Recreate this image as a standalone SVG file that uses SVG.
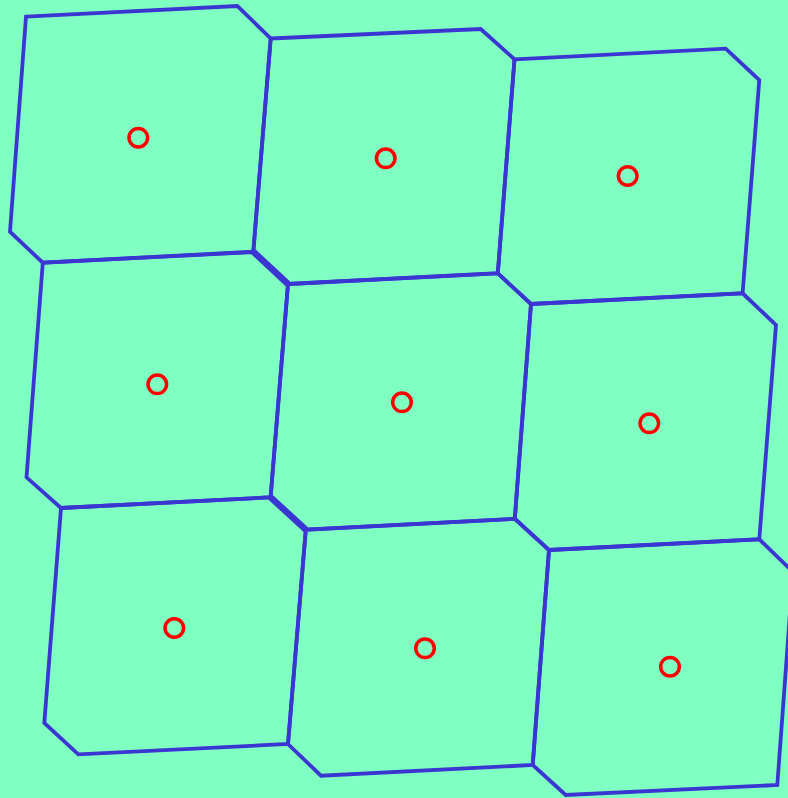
<svg xmlns="http://www.w3.org/2000/svg" width="788" height="798" viewBox="0 0 788 798">
<style>
.cell{fill:none;stroke:#3b36d2;stroke-width:3.8;stroke-linejoin:miter}
.thick{fill:none;stroke:#3b36d2;stroke-width:6.5;stroke-linecap:butt}
.site{fill:none;stroke:#ff0000;stroke-width:3.5}
</style>
<rect x="0" y="0" width="788" height="798" fill="#80ffc3"/>
<g id="cell-0-0"><polygon class="cell" points="26,16.7 237.3,6 270.7,38.5 253.3,251.7 42.8,262.7 10,231.7"/><circle class="site" cx="138.3" cy="137.7" r="9.3"/></g>
<g id="cell-0-1"><polygon class="cell" points="270.7,38.5 480.7,29 514.5,59.3 497.8,273.3 288,284 253.3,251.7"/><circle class="site" cx="385.7" cy="158.3" r="9.3"/></g>
<g id="cell-0-2"><polygon class="cell" points="514.5,59.3 725.7,48.7 759.3,80 742.6,293.3 531,304 497.8,273.3"/><circle class="site" cx="627.7" cy="176" r="9.3"/></g>
<g id="cell-1-0"><polygon class="cell" points="42.8,262.7 253.3,252.2 288,284 270.6,497.3 61,508 26.5,477.3"/><circle class="site" cx="157.3" cy="384.3" r="9.3"/></g>
<g id="cell-1-1"><polygon class="cell" points="288,284 497.8,273.3 531,304 514.8,518.8 305.8,529.7 270.6,497.3"/><circle class="site" cx="402" cy="402.3" r="9.3"/></g>
<g id="cell-1-2"><polygon class="cell" points="531,304 742.6,293.3 776,325 759.3,539.3 549,550 514.8,518.8"/><circle class="site" cx="649.3" cy="423.3" r="9.3"/></g>
<g id="cell-2-0"><polygon class="cell" points="61,508 270.6,497.3 305.8,529.7 288,744 78.3,754.3 44.3,723"/><circle class="site" cx="174.3" cy="628" r="9.3"/></g>
<g id="cell-2-1"><polygon class="cell" points="305.8,529.7 514.8,518.8 549,550 532.7,765 321,775.7 288,744"/><circle class="site" cx="425" cy="648.3" r="9.3"/></g>
<g id="cell-2-2"><polygon class="cell" points="549,550 759.3,539.3 793,572 777.3,785 565.7,795 532.7,765"/><circle class="site" cx="670" cy="666.7" r="9.3"/></g>
<g id="connectors">
<line class="thick" x1="253.3" y1="251.7" x2="288" y2="284"/>
<line class="thick" x1="270.6" y1="497.3" x2="305.8" y2="529.7"/>
</g>
</svg>
